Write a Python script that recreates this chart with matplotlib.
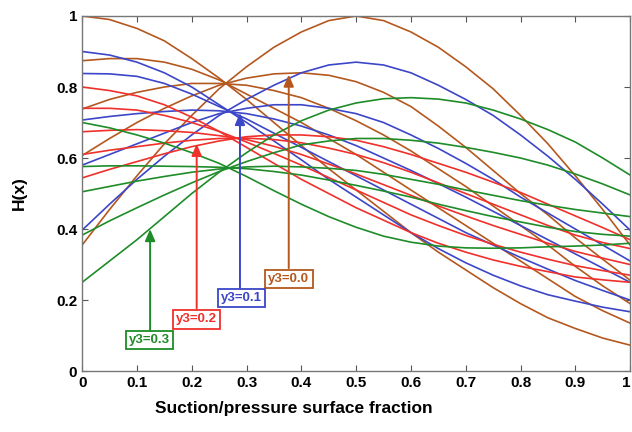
import matplotlib
matplotlib.use("Agg")
import matplotlib.pyplot as plt
import numpy as np

plt.rcParams['font.family'] = ['Liberation Sans', 'DejaVu Sans']
plt.rcParams['font.weight'] = 'bold'

x = [0.0, 0.05, 0.1, 0.15, 0.2, 0.25, 0.3, 0.35, 0.4, 0.45, 0.5,
     0.55, 0.6, 0.65, 0.7, 0.75, 0.8, 0.85, 0.9, 0.95, 1.0]

# y3 = 0.0 (brown)
brown_curves = [
    [1.0, 0.99, 0.965, 0.93, 0.88, 0.825, 0.765, 0.70, 0.635, 0.57, 0.51,
     0.45, 0.39, 0.335, 0.285, 0.235, 0.19, 0.15, 0.12, 0.093, 0.073],
    [0.874, 0.88, 0.88, 0.87, 0.85, 0.82, 0.78, 0.74, 0.70, 0.655, 0.61,
     0.56, 0.51, 0.46, 0.41, 0.36, 0.31, 0.26, 0.21, 0.17, 0.135],
    [0.738, 0.765, 0.785, 0.80, 0.81, 0.81, 0.805, 0.79, 0.77, 0.74, 0.705,
     0.665, 0.62, 0.57, 0.52, 0.465, 0.41, 0.355, 0.295, 0.24, 0.19],
    [0.607, 0.655, 0.70, 0.74, 0.775, 0.805, 0.825, 0.837, 0.84, 0.833, 0.815,
     0.785, 0.745, 0.69, 0.63, 0.565, 0.50, 0.44, 0.375, 0.315, 0.256],
    [0.355, 0.455, 0.55, 0.64, 0.72, 0.795, 0.857, 0.912, 0.955, 0.987, 1.0,
     0.987, 0.955, 0.912, 0.857, 0.795, 0.72, 0.64, 0.55, 0.455, 0.355],
]
# y3 = 0.1 (blue)
blue_curves = [
    [0.90, 0.89, 0.87, 0.84, 0.80, 0.75, 0.70, 0.648, 0.595, 0.54, 0.49,
     0.44, 0.39, 0.345, 0.305, 0.27, 0.24, 0.215, 0.197, 0.18, 0.167],
    [0.838, 0.837, 0.83, 0.81, 0.78, 0.745, 0.71, 0.67, 0.63, 0.59, 0.55,
     0.51, 0.47, 0.43, 0.39, 0.355, 0.32, 0.287, 0.255, 0.227, 0.20],
    [0.707, 0.717, 0.725, 0.731, 0.735, 0.733, 0.725, 0.71, 0.69, 0.665, 0.635,
     0.60, 0.565, 0.528, 0.49, 0.45, 0.41, 0.37, 0.33, 0.29, 0.25],
    [0.58, 0.61, 0.64, 0.67, 0.70, 0.725, 0.74, 0.75, 0.75, 0.74, 0.725,
     0.70, 0.665, 0.627, 0.585, 0.54, 0.49, 0.445, 0.40, 0.355, 0.31],
    [0.397, 0.47, 0.54, 0.605, 0.665, 0.72, 0.765, 0.805, 0.84, 0.862, 0.87,
     0.862, 0.84, 0.805, 0.765, 0.72, 0.665, 0.605, 0.54, 0.47, 0.397],
]
# y3 = 0.2 (red)
red_curves = [
    [0.80, 0.79, 0.775, 0.75, 0.715, 0.675, 0.63, 0.585, 0.54, 0.50, 0.46,
     0.425, 0.39, 0.36, 0.335, 0.313, 0.295, 0.28, 0.265, 0.257, 0.25],
    [0.74, 0.74, 0.735, 0.72, 0.70, 0.675, 0.645, 0.613, 0.58, 0.545, 0.51,
     0.475, 0.44, 0.41, 0.382, 0.357, 0.335, 0.315, 0.297, 0.283, 0.27],
    [0.674, 0.678, 0.68, 0.677, 0.672, 0.663, 0.652, 0.633, 0.61, 0.583, 0.555,
     0.525, 0.495, 0.465, 0.437, 0.41, 0.385, 0.36, 0.337, 0.318, 0.30],
    [0.61, 0.622, 0.632, 0.642, 0.65, 0.655, 0.656, 0.652, 0.643, 0.628, 0.61,
     0.587, 0.56, 0.53, 0.50, 0.47, 0.44, 0.41, 0.383, 0.362, 0.345],
    [0.544, 0.568, 0.59, 0.612, 0.632, 0.648, 0.66, 0.665, 0.665, 0.66, 0.65,
     0.632, 0.61, 0.585, 0.56, 0.532, 0.503, 0.47, 0.437, 0.404, 0.37],
]
# y3 = 0.3 (green)
green_curves = [
    [0.25, 0.31, 0.37, 0.435, 0.50, 0.56, 0.615, 0.665, 0.705, 0.735, 0.755,
     0.767, 0.77, 0.766, 0.755, 0.735, 0.71, 0.68, 0.645, 0.60, 0.552],
    [0.383, 0.423, 0.46, 0.496, 0.53, 0.562, 0.59, 0.615, 0.637, 0.648, 0.655,
     0.655, 0.65, 0.642, 0.63, 0.616, 0.60, 0.58, 0.555, 0.527, 0.496],
    [0.505, 0.52, 0.535, 0.548, 0.56, 0.569, 0.575, 0.577, 0.575, 0.571, 0.565,
     0.554, 0.54, 0.526, 0.51, 0.495, 0.48, 0.467, 0.455, 0.445, 0.435],
    [0.576, 0.578, 0.578, 0.577, 0.576, 0.574, 0.57, 0.562, 0.552, 0.538, 0.523,
     0.507, 0.49, 0.47, 0.452, 0.435, 0.42, 0.405, 0.393, 0.385, 0.38],
    [0.70, 0.685, 0.665, 0.642, 0.615, 0.585, 0.548, 0.508, 0.47, 0.435, 0.405,
     0.38, 0.363, 0.352, 0.347, 0.346, 0.347, 0.35, 0.352, 0.355, 0.36],
]

labels = ["y3=0.0", "y3=0.1", "y3=0.2", "y3=0.3"]
colors = ["#B4581E", "#3C46C8", "#F0302A", "#1E8C28"]
label_pos = [(0.377, 0.259), (0.291, 0.206), (0.209, 0.146), (0.123, 0.087)]
arrow_x = [0.377, 0.288, 0.209, 0.124]
arrow_tip = [0.835, 0.727, 0.64, 0.40]
arrow_base = [0.29, 0.234, 0.177, 0.115]

fig = plt.figure(figsize=(6.32, 4.32), dpi=100)
ax = fig.add_axes([0.130, 0.141, 0.867, 0.822])

for fam, col in zip([brown_curves, blue_curves, red_curves, green_curves], colors):
    for ys in fam:
        ax.plot(x, ys, color=col, lw=1.2)

for lab, col, lp, axx, tip, base in zip(labels, colors, label_pos, arrow_x, arrow_tip, arrow_base):
    ax.annotate("", xy=(axx, tip), xytext=(axx, base),
                arrowprops=dict(arrowstyle="-|>,head_length=0.7,head_width=0.3",
                                color=col, lw=1.4, shrinkA=0, shrinkB=0))
    ax.text(lp[0], lp[1], lab, color=col, fontsize=9.5, fontweight='bold',
            ha='center', va='center', zorder=5,
            bbox=dict(boxstyle='square,pad=0.25', fc='white', ec=col, lw=1.3))

ax.set_xlim(0, 1)
ax.set_ylim(0, 1)
ax.set_xticks(np.arange(0, 1.01, 0.1))
ax.set_xticklabels(["0", "0.1", "0.2", "0.3", "0.4", "0.5", "0.6", "0.7", "0.8", "0.9", "1"])
ax.set_yticks([0, 0.2, 0.4, 0.6, 0.8, 1.0])
ax.set_yticklabels(["0", "0.2", "0.4", "0.6", "0.8", "1"])
ax.tick_params(direction='in', top=True, right=True, length=4, width=0.8,
               colors='#555555', labelcolor='black', labelsize=11)
for lbl in ax.get_xticklabels() + ax.get_yticklabels():
    lbl.set_fontweight('bold')
ax.get_xticklabels()[-1].set_horizontalalignment('right')
for s in ax.spines.values():
    s.set_color('#777777')
    s.set_linewidth(1.0)
ax.set_xlabel("Suction/pressure surface fraction", fontsize=12.5, fontweight='bold')
ax.xaxis.set_label_coords(0.387, -0.085)
ax.set_ylabel("H(x)", fontsize=12.5, fontweight='bold')
ax.yaxis.set_label_coords(-0.10, 0.5)

fig.savefig("out.png", dpi=100)
